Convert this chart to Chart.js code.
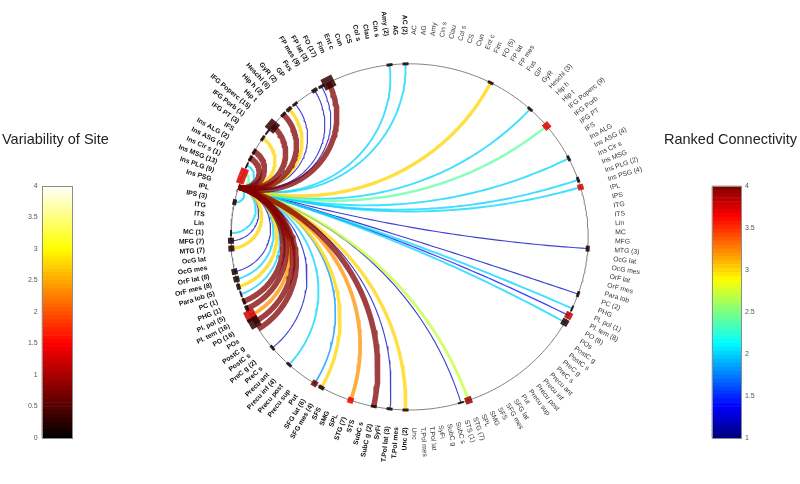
<!DOCTYPE html>
<html>
<head>
    <meta charset="UTF-8">
    <title>Connectogram</title>
    <script src="https://cdn.jsdelivr.net/npm/chart.js"></script>
    <style>
        body { margin: 0; background: #fff; }
        .wrap { position: relative; width: 800px; height: 484px; }
        .wrap canvas { position: absolute; top: 0; }
    </style>
</head>
<body>
<div class="wrap">
    <canvas id="ring" width="800" height="484" style="left:0;width:800px;height:484px"></canvas>
    <canvas id="barLeft" width="80" height="484" style="left:0;width:80px;height:484px"></canvas>
    <canvas id="barRight" width="100" height="484" style="left:700px;width:100px;height:484px"></canvas>
</div>
<script>
    // node labels, top to bottom on each half of the ring
    const leftNames = ['AC (2)', 'AG', 'Amy (2)', 'Cin s', 'Clau', 'Col s', 'CS', 'Cun', 'Ent c', 'Fim',
        'FO (17)', 'FP lat (3)', 'FP mes (9)', 'Fus', 'GP', 'GyR (2)', 'Heschl (6)', 'Hip h (2)', 'Hip t',
        'IFG Poperc (15)', 'IFG Porb (1)', 'IFG PT (3)', 'IFS', 'Ins ALG (2)', 'Ins ASG (4)', 'Ins Cir s (1)',
        'Ins MSG (13)', 'Ins PLG (9)', 'Ins PSG', 'IPL', 'IPS (3)', 'ITG', 'ITS', 'Lin', 'MC (1)', 'MFG (7)',
        'MTG (7)', 'OcG lat', 'OcG mes', 'OrF lat (8)', 'OrF mes (8)', 'Para lob (5)', 'PC (1)', 'PHG (1)',
        'Pl. pol (5)', 'Pl. tem (16)', 'PO (16)', 'POs', 'PostC g', 'PostC s', 'PreC g (2)', 'PreC s',
        'Precu ant', 'Precu inf (4)', 'Precu post', 'Precu sup', 'Put', 'SFG lat (6)', 'SFG mes (4)', 'SFS',
        'SMG', 'SPL', 'STG (7)', 'STS', 'SubC s', 'SubC g (2)', 'SyFi', 'T.Pol lat (3)', 'T.Pol mes', 'Unc (2)'];
    const rightNames = ['AC', 'AG', 'Amy', 'Cin s', 'Clau', 'Col s', 'CS', 'Cun', 'Ent c', 'Fim',
        'FO (5)', 'FP lat', 'FP mes', 'Fus', 'GP', 'GyR', 'Heschl (3)', 'Hip h', 'Hip t',
        'IFG Poperc (9)', 'IFG Porb', 'IFG PT', 'IFS', 'Ins ALG', 'Ins ASG (4)', 'Ins Cir s',
        'Ins MSG', 'Ins PLG (2)', 'Ins PSG (4)', 'IPL', 'IPS', 'ITG', 'ITS', 'Lin', 'MC', 'MFG',
        'MTG (3)', 'OcG lat', 'OcG mes', 'OrF lat', 'OrF mes', 'Para lob', 'PC (2)', 'PHG',
        'Pl. pol (1)', 'Pl. tem (8)', 'PO (8)', 'POs', 'PostC g', 'PostC s', 'PreC g', 'PreC s',
        'Precu ant', 'Precu inf', 'Precu post', 'Precu sup', 'Put', 'SFG lat', 'SFG mes', 'SFS',
        'SMG', 'SPL', 'STG (7)', 'STS (1)', 'SubC s', 'SubC g', 'SyFi', 'T.Pol lat', 'T.Pol mes', 'Unc'];

    // every link starts at this left node
    const hubSite = 'Ins PSG';

    // links to left nodes and their ranked connectivity (1-4)
    const leftLinks = ['AC (2)', 'Amy (2)', 'FO (17)', 'FP lat (3)', 'FP mes (9)', 'GyR (2)', 'Heschl (6)',
        'Hip h (2)', 'IFG Poperc (15)', 'IFG PT (3)', 'Ins ALG (2)', 'Ins ASG (4)', 'Ins Cir s (1)',
        'Ins MSG (13)', 'IPS (3)', 'MC (1)', 'MFG (7)', 'MTG (7)', 'OrF lat (8)', 'OrF mes (8)',
        'Para lob (5)', 'PC (1)', 'PHG (1)', 'Pl. pol (5)', 'Pl. tem (16)', 'PO (16)', 'POs',
        'PreC g (2)', 'Precu inf (4)', 'SFG lat (6)', 'SFG mes (4)', 'STG (7)', 'SubC g (2)',
        'T.Pol lat (3)', 'Unc (2)'];
    const leftLinkRank = [2, 2, 4, 1.2, 1.2, 1.2, 3, 4, 4, 3, 4, 4, 2, 2.4, 2, 2, 1.2, 3, 1.2, 2,
        3, 2, 4, 4, 3.2, 4, 4, 1.2, 2, 1.8, 3, 3.2, 4, 1.2, 3];

    // links to right nodes
    const rightLinks = ['FO (5)', 'Heschl (3)', 'IFG Poperc (9)', 'Ins ASG (4)', 'Ins PLG (2)', 'Ins PSG (4)',
        'MTG (3)', 'PC (2)', 'Pl. pol (1)', 'Pl. tem (8)', 'PO (8)', 'STG (7)', 'STS (1)'];
    const rightLinkRank = [3, 2, 2.4, 2, 2, 2, 1.2, 1.2, 2, 1.35, 2, 2.7, 1.2];

    // recording sites: marker size and variability (0-4)
    const leftSites = ['AC (2)', 'Amy (2)', 'FO (17)', 'FP lat (3)', 'FP mes (9)', 'GyR (2)', 'Heschl (6)',
        'Hip h (2)', 'IFG Poperc (15)', 'IFG Porb (1)', 'IFG PT (3)', 'Ins ALG (2)', 'Ins ASG (4)',
        'Ins Cir s (1)', 'Ins MSG (13)', 'Ins PLG (9)', 'IPS (3)', 'MC (1)', 'MFG (7)', 'MTG (7)',
        'OrF lat (8)', 'OrF mes (8)', 'Para lob (5)', 'PC (1)', 'PHG (1)', 'Pl. pol (5)', 'Pl. tem (16)',
        'PO (16)', 'PreC g (2)', 'Precu inf (4)', 'SFG lat (6)', 'SFG mes (4)', 'STG (7)', 'SubC g (2)',
        'T.Pol lat (3)', 'Unc (2)'];
    const leftSiteSize = [3, 3, 12, 3, 4, 3, 4, 3, 11, 2, 3, 3, 3, 2, 8, 8, 4, 2, 6, 6,
        6, 6, 4, 2, 3, 4, 11, 11, 3, 3, 6, 4, 6, 3, 3, 3];
    const leftSiteVar = [0.15, 0.15, 0.3, 0.15, 0.15, 0.15, 0.2, 0.15, 0.3, 0.15, 0.15, 0.2, 0.2,
        0.2, 1.3, 1.3, 0.15, 0.15, 0.15, 0.15, 0.15, 0.15, 0.15, 0.15, 0.15, 0.2, 1.2,
        0.25, 0.15, 0.15, 0.6, 0.15, 1.4, 0.15, 0.15, 0.15];

    const rightSites = ['FO (5)', 'Heschl (3)', 'IFG Poperc (9)', 'Ins ASG (4)', 'Ins PLG (2)', 'Ins PSG (4)',
        'MTG (3)', 'PC (2)', 'Pl. pol (1)', 'Pl. tem (8)', 'PO (8)', 'STG (7)', 'STS (1)'];
    const rightSiteSize = [3, 3, 7, 3, 3, 6, 4, 3, 2, 7, 7, 7, 2];
    const rightSiteVar = [0.15, 0.15, 1.3, 0.15, 0.15, 1.3, 0.15, 0.15, 0.15, 1.1, 0.2, 0.9, 0.15];

    // colour bars
    const variabilityTicks = [0, 0.5, 1, 1.5, 2, 2.5, 3, 3.5, 4];
    const rankTicks = [1, 1.5, 2, 2.5, 3, 3.5, 4];
    const barTitles = ['Variability of Site', 'Ranked Connectivity'];

    // ---- helpers ----
    const D2R = Math.PI / 180;
    const STEP = 180 / leftNames.length;
    const clamp = v => Math.max(0, Math.min(1, v));
    const hot = t => [clamp(t / 0.375), clamp((t - 0.375) / 0.375), clamp((t - 0.75) / 0.25)];
    const jet = t => [clamp(1.5 - Math.abs(4 * t - 3)), clamp(1.5 - Math.abs(4 * t - 2)), clamp(1.5 - Math.abs(4 * t - 1))];
    const rgba = (c, a) => `rgba(${Math.round(c[0] * 255)},${Math.round(c[1] * 255)},${Math.round(c[2] * 255)},${a})`;

    function nodeAngle(side, i) {
        return side === 'L' ? 90 + (i + 0.5) * STEP : 90 - (i + 0.5) * STEP;
    }

    // arc of the circle orthogonal to the ring through both nodes
    function arcPoints(aDeg, bDeg) {
        const a = aDeg * D2R, b = bDeg * D2R;
        const u = [Math.cos(a), Math.sin(a)], v = [Math.cos(b), Math.sin(b)];
        const det = u[0] * v[1] - u[1] * v[0];
        if (Math.abs(det) < 1e-3) return [{x: u[0], y: u[1]}, {x: v[0], y: v[1]}];
        const x0 = -(u[1] - v[1]) / det, y0 = (u[0] - v[0]) / det;
        const r = Math.sqrt(x0 * x0 + y0 * y0 - 1);
        const t1 = Math.atan2(u[1] - y0, u[0] - x0);
        let d = Math.atan2(v[1] - y0, v[0] - x0) - t1;
        while (d > Math.PI) d -= 2 * Math.PI;
        while (d < -Math.PI) d += 2 * Math.PI;
        const pts = [];
        for (let k = 0; k <= 60; k++) {
            const t = t1 + d * k / 60;
            pts.push({x: x0 + r * Math.cos(t), y: y0 + r * Math.sin(t)});
        }
        return pts;
    }

    // ---- ring chart ----
    const CX = 410, CY = 236.5, R_PX = 187;
    const hubAngle = nodeAngle('L', leftNames.indexOf(hubSite));

    const links = [];
    leftLinks.forEach((n, k) => links.push({a: nodeAngle('L', leftNames.indexOf(n)), rank: leftLinkRank[k]}));
    rightLinks.forEach((n, k) => links.push({a: nodeAngle('R', rightNames.indexOf(n)), rank: rightLinkRank[k]}));
    links.sort((p, q) => p.rank - q.rank);

    const linkSets = links.map((l, k) => ({
        data: arcPoints(hubAngle, l.a),
        showLine: true,
        pointRadius: 0,
        borderColor: rgba(jet((l.rank - 1) / 3), 0.75),
        borderWidth: 0.3 * l.rank * l.rank + 0.7,
        borderJoinStyle: 'round',
        order: 500 - k
    }));

    const ringPts = [];
    for (let d = 0; d <= 360; d += 1) ringPts.push({x: Math.cos(d * D2R), y: Math.sin(d * D2R)});

    const sites = [];
    leftSites.forEach((n, k) => sites.push({a: nodeAngle('L', leftNames.indexOf(n)), s: leftSiteSize[k], v: leftSiteVar[k]}));
    rightSites.forEach((n, k) => sites.push({a: nodeAngle('R', rightNames.indexOf(n)), s: rightSiteSize[k], v: rightSiteVar[k]}));

    const ringText = {
        id: 'ringText',
        afterDatasetsDraw(chart) {
            const {ctx, scales: {x, y}} = chart;
            const unit = x.getPixelForValue(1) - x.getPixelForValue(0);
            ctx.save();
            ctx.textBaseline = 'middle';
            [['L', leftNames], ['R', rightNames]].forEach(([side, names]) => {
                ctx.font = (side === 'L' ? 'bold ' : '') + '6.8px "Liberation Sans", Arial, sans-serif';
                ctx.fillStyle = side === 'L' ? '#111' : '#333';
                ctx.textAlign = side === 'L' ? 'right' : 'left';
                names.forEach((name, i) => {
                    const a = nodeAngle(side, i) * D2R;
                    const gap = 24 + 6 * Math.sin(a) + 3 * Math.cos(a) * Math.cos(a);
                    const r = 1 + gap / unit;
                    ctx.save();
                    ctx.translate(x.getPixelForValue(r * Math.cos(a)), y.getPixelForValue(r * Math.sin(a)));
                    ctx.rotate(side === 'L' ? Math.PI - a : -a);
                    ctx.fillText(name, 0, 0);
                    ctx.restore();
                });
            });
            ctx.font = '14.5px "Liberation Sans", Arial, sans-serif';
            ctx.fillStyle = '#222';
            ctx.textBaseline = 'alphabetic';
            ctx.textAlign = 'left';
            ctx.fillText(barTitles[0], 2, 144);
            ctx.textAlign = 'right';
            ctx.fillText(barTitles[1], 797, 144);
            ctx.restore();
        }
    };

    new Chart(document.getElementById('ring'), {
        type: 'scatter',
        data: {
            datasets: [
                {data: ringPts, showLine: true, pointRadius: 0, borderColor: '#808080', borderWidth: 1, order: 1000},
                ...linkSets,
                {
                    data: sites.map(s => ({x: Math.cos(s.a * D2R), y: Math.sin(s.a * D2R)})),
                    pointStyle: 'line',
                    pointRadius: c => Math.max(sites[c.dataIndex].s, 6) / 2,
                    pointBorderWidth: c => sites[c.dataIndex].s,
                    pointBorderColor: c => rgba(hot(sites[c.dataIndex].v / 4), 0.85),
                    pointRotation: c => 90 - sites[c.dataIndex].a,
                    order: 0
                }
            ]
        },
        options: {
            responsive: false,
            animation: false,
            events: [],
            layout: {padding: 0},
            plugins: {legend: {display: false}, tooltip: {enabled: false}},
            scales: {
                x: {display: false, min: -CX / R_PX, max: (800 - CX) / R_PX},
                y: {display: false, min: -(484 - CY) / R_PX, max: CY / R_PX}
            }
        },
        plugins: [ringText]
    });

    // ---- colour bars ----
    const frame = {
        id: 'frame',
        afterDraw(chart) {
            const {ctx, chartArea: a} = chart;
            ctx.save();
            ctx.strokeStyle = '#8c8c8c';
            ctx.lineWidth = 1;
            ctx.strokeRect(Math.round(a.left) + 0.5, Math.round(a.top) + 0.5,
                Math.round(a.right - a.left), Math.round(a.bottom - a.top));
            ctx.restore();
        }
    };

    function colorBar(id, cmap, ticks, side, padding, axisWidth) {
        const lo = ticks[0], hi = ticks[ticks.length - 1];
        const n = 64, d = (hi - lo) / n;
        const datasets = [];
        for (let k = 0; k < n; k++) {
            datasets.push({
                data: [[lo + k * d, lo + (k + 1) * d]],
                backgroundColor: rgba(cmap((k + 0.5) / n), 1),
                borderWidth: 0,
                barPercentage: 1,
                categoryPercentage: 1,
                grouped: false
            });
        }
        return new Chart(document.getElementById(id), {
            type: 'bar',
            data: {labels: [''], datasets},
            options: {
                responsive: false,
                animation: false,
                events: [],
                layout: {padding},
                plugins: {legend: {display: false}, tooltip: {enabled: false}},
                scales: {
                    x: {display: false},
                    y: {
                        position: side,
                        min: lo,
                        max: hi,
                        afterFit: s => { s.width = axisWidth; },
                        afterBuildTicks: s => { s.ticks = ticks.map(v => ({value: v})); },
                        ticks: {
                            callback: v => String(v),
                            font: {size: 7, family: '"Liberation Sans", Arial, sans-serif'},
                            color: '#555',
                            padding: 4
                        },
                        grid: {display: false, drawTicks: false},
                        border: {display: false}
                    }
                }
            },
            plugins: [frame]
        });
    }

    colorBar('barLeft', hot, variabilityTicks, 'left', {top: 185.7, bottom: 46, left: 0, right: 8}, 41.7);
    colorBar('barRight', jet, rankTicks, 'right', {top: 185.7, bottom: 46, left: 11.7, right: 0}, 59);
</script>
</body>
</html>
